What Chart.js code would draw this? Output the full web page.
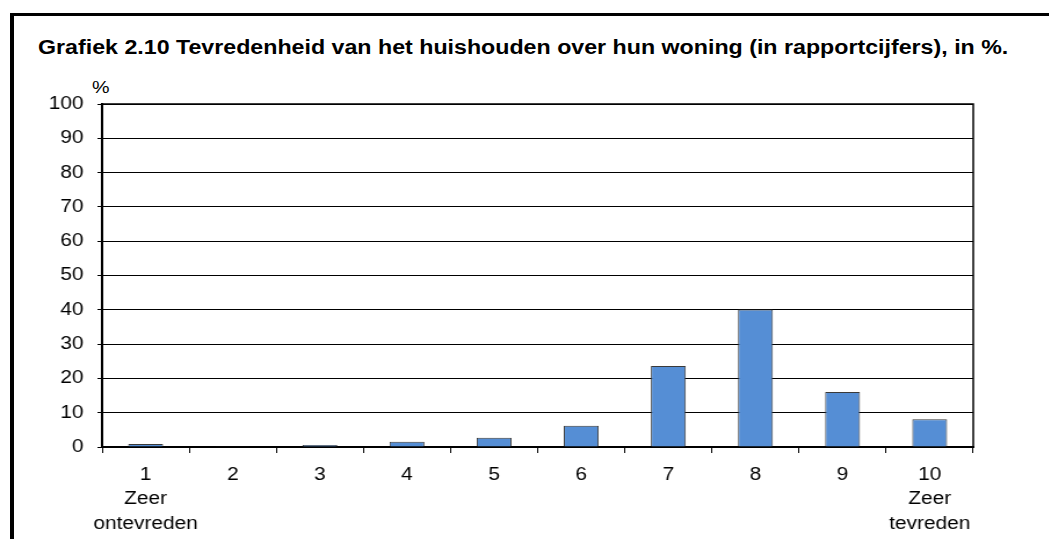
<!DOCTYPE html>
<html>
<head>
<meta charset="utf-8">
<script src="https://cdn.jsdelivr.net/npm/chart.js@4"></script>
<style>
  html, body { margin: 0; padding: 0; background: #fff; }
  body { width: 1049px; height: 539px; position: relative; overflow: hidden; font-family: Arial, "Liberation Sans", sans-serif; }
  #frame { position: absolute; left: 10px; top: 13px; width: 1100px; height: 600px; border-top: 3px solid #000; border-left: 4px solid #000; }
  /* the original figure is a bit wider than tall, so stretch text and plot horizontally */
  .wide { transform: scaleX(1.16); transform-origin: 0 0; }
  #title { position: absolute; left: 38px; top: 37px; font-size: 20px; line-height: 20px; font-weight: bold; color: #000; white-space: nowrap; }
  #unit { position: absolute; left: 92px; top: 79px; font-size: 17px; line-height: 17px; color: #000; }
  #chart { position: absolute; left: 0; top: 0; }
</style>
</head>
<body>
<div id="frame"></div>
<div id="title" class="wide">Grafiek 2.10 Tevredenheid van het huishouden over hun woning (in rapportcijfers), in %.</div>
<div id="unit" class="wide">%</div>
<canvas id="chart" class="wide" width="904" height="539"></canvas>
<script>
// rapportcijfer 1..10
const categories = [['1', 'Zeer', 'ontevreden'], '2', '3', '4', '5', '6', '7', '8', '9', ['10', 'Zeer', 'tevreden']];
const percentages = [0.9, 0.2, 0.6, 1.5, 2.7, 6.2, 23.6, 40.1, 16.0, 8.1];
const yMin = 0;
const yMax = 100;
const yStep = 10;

const font = { family: 'Arial, "Liberation Sans", sans-serif', size: 18, lineHeight: 1.35 };

// right/top frame line of the plot area
const plotFrame = {
  id: 'plotFrame',
  afterDraw(chart) {
    const { ctx, chartArea: a } = chart;
    ctx.save();
    ctx.strokeStyle = '#000';
    ctx.lineWidth = 1.5;
    ctx.beginPath();
    ctx.moveTo(a.left, a.top);
    ctx.lineTo(a.right, a.top);
    ctx.lineTo(a.right, a.bottom);
    ctx.stroke();
    ctx.restore();
  }
};

new Chart(document.getElementById('chart'), {
  type: 'bar',
  data: {
    labels: categories,
    datasets: [{
      data: percentages,
      backgroundColor: '#558ed5',
      borderColor: '#3a3a3a',
      borderWidth: 1,
      barPercentage: 0.4,
      categoryPercentage: 1
    }]
  },
  options: {
    responsive: false,
    devicePixelRatio: 1,
    animation: false,
    layout: { padding: { top: 104, right: 65, left: 0, bottom: 0 } },
    plugins: { legend: { display: false }, tooltip: { enabled: false }, title: { display: false } },
    scales: {
      x: {
        grid: { drawOnChartArea: false, drawTicks: true, tickLength: 6, color: '#000', offset: true },
        border: { color: '#000', width: 2 },
        ticks: { color: '#000', font, padding: 10, maxRotation: 0, autoSkip: false },
        afterFit(scale) { scale.height = 92; }
      },
      y: {
        min: yMin,
        max: yMax,
        grid: { color: '#000', lineWidth: 1, drawTicks: true, tickLength: 4 },
        border: { color: '#000', width: 2 },
        ticks: { stepSize: yStep, color: '#000', font, padding: 12 },
        afterFit(scale) { scale.width = 88; }
      }
    }
  },
  plugins: [plotFrame]
});
</script>
</body>
</html>
